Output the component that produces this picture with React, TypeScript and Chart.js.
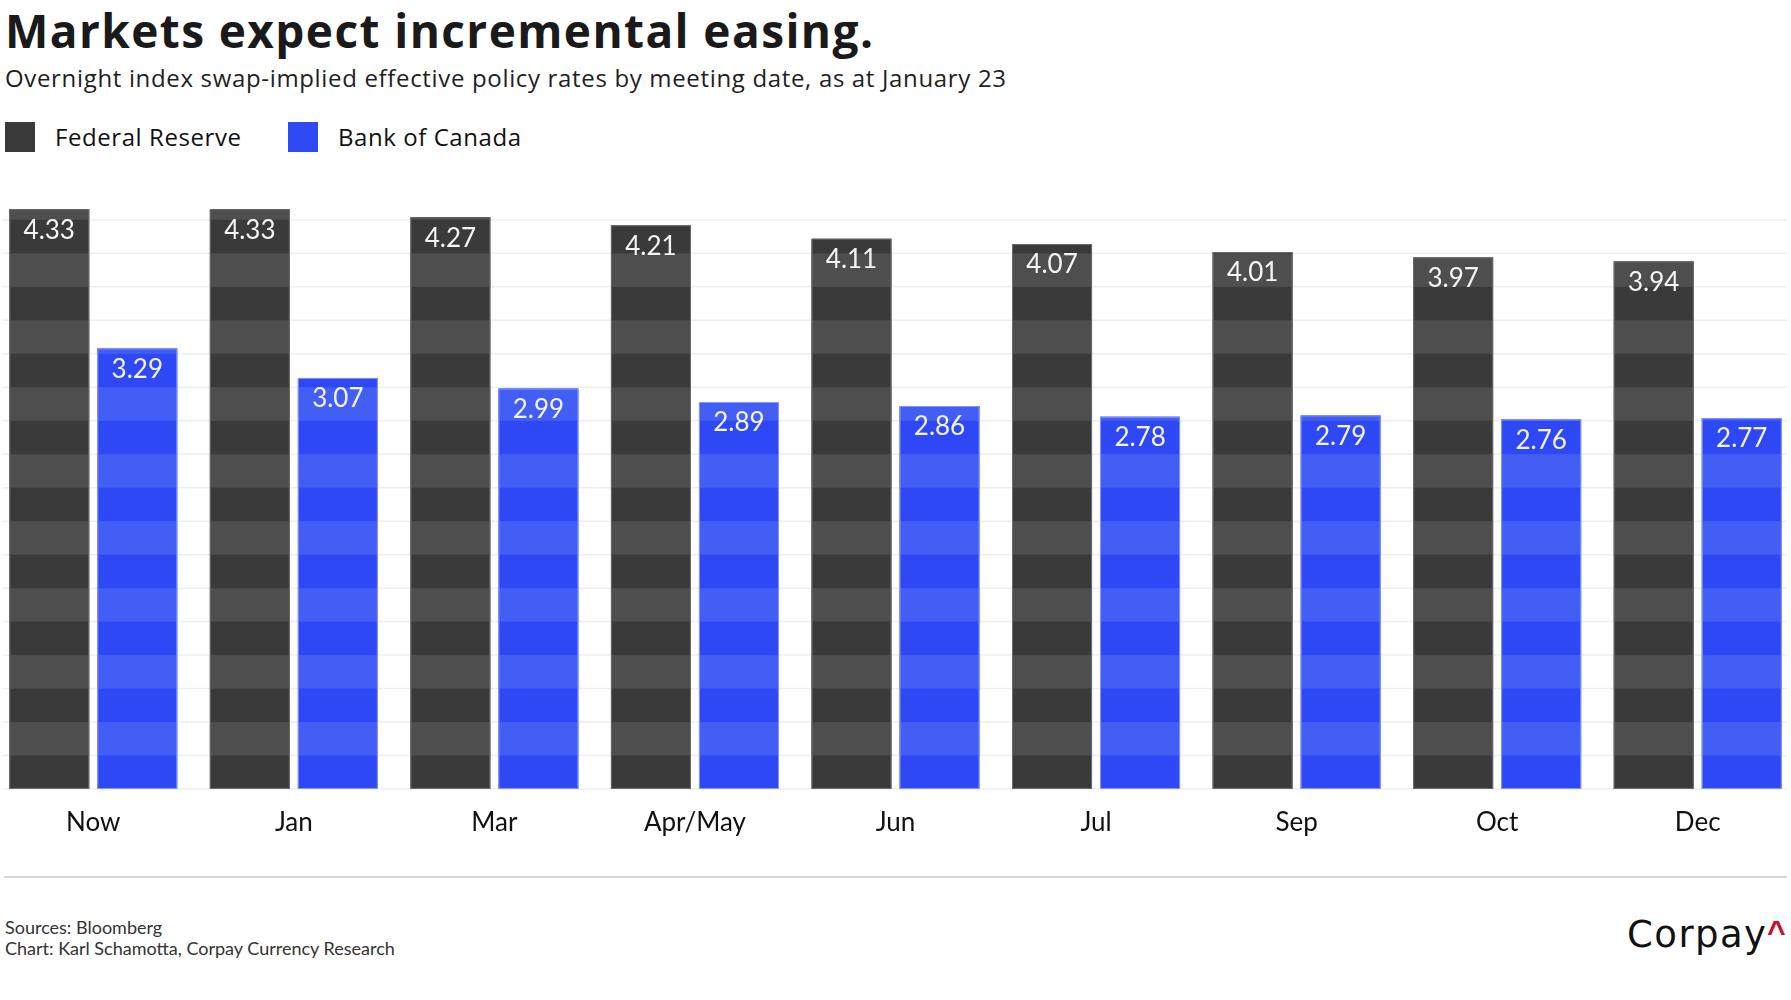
import React, { useEffect, useRef } from 'react';
import { Chart, registerables } from 'chart.js';

Chart.register(...registerables);

const categories = ['Now', 'Jan', 'Mar', 'Apr/May', 'Jun', 'Jul', 'Sep', 'Oct', 'Dec'];
const fedValues = [4.33, 4.33, 4.27, 4.21, 4.11, 4.07, 4.01, 3.97, 3.94];
const bocValues = [3.29, 3.07, 2.99, 2.89, 2.86, 2.78, 2.79, 2.76, 2.77];
const seriesNames = ['Federal Reserve', 'Bank of Canada'];
const baseColors = ['#3a3a3a', '#2d48f4'];
const stripeColors = ['#4e4e4e', '#435ef5'];
const edgeColors = ['#6c6c6c', '#8497f8'];
const legendColors = ['#3a3a3a', '#2f49f5'];
const yMin = 0;
const yMax = 4.4;
const bandStep = 0.25;

const TITLE = 'Markets expect incremental easing.';
const SUB_A = 'Overnight index swap-implied effective policy rates by meeting date,';
const SUB_B = ' as at January 23';
const SOURCE = 'Sources: Bloomberg';
const CREDIT = 'Chart: Karl Schamotta, Corpay Currency Research';

const FONT = 'Lato, "Noto Sans", "DejaVu Sans", sans-serif';
const OS = '"Open Sans", "Noto Sans", sans-serif';
const LOGO = '"DejaVu Sans", "Liberation Sans", sans-serif';

let mctx: CanvasRenderingContext2D | null = null;
function spacing(parts: [string, string][], target: number) {
  if (typeof document === 'undefined') return 0;
  if (!mctx) mctx = document.createElement('canvas').getContext('2d');
  if (!mctx) return 0;
  let w = 0;
  let n = 0;
  for (const [t, f] of parts) {
    mctx.font = f;
    w += mctx.measureText(t).width;
    n += t.length;
  }
  return (target - w) / Math.max(1, n - 1);
}

const stripePlugin = {
  id: 'stripedBars',
  beforeDatasetsDraw(chart: any) {
    const ctx = chart.ctx;
    const ys = chart.scales.y;
    ctx.save();
    ctx.strokeStyle = '#efefef';
    ctx.lineWidth = 1.5;
    for (let k = 0; k * bandStep <= yMax + 1e-9; k++) {
      const py = ys.getPixelForValue(k * bandStep);
      ctx.beginPath();
      ctx.moveTo(10, py);
      ctx.lineTo(1794, py);
      ctx.stroke();
    }
    ctx.restore();
  },
  afterDatasetsDraw(chart: any) {
    const ctx = chart.ctx;
    const ys = chart.scales.y;
    chart.data.datasets.forEach((ds: any, di: number) => {
      const meta = chart.getDatasetMeta(di);
      meta.data.forEach((el: any, i: number) => {
        const p = el.getProps(['x', 'y', 'base', 'width'], true);
        const left = p.x - p.width / 2;
        const top = p.y;
        const h = p.base - p.y;
        ctx.save();
        ctx.beginPath();
        ctx.rect(left, top, p.width, h);
        ctx.clip();
        ctx.fillStyle = stripeColors[di];
        for (let k = 0; k * bandStep < yMax; k++) {
          if (k % 2 === 1) {
            const y0 = ys.getPixelForValue(k * bandStep);
            const y1 = ys.getPixelForValue((k + 1) * bandStep);
            ctx.fillRect(left, y1, p.width, y0 - y1);
          }
        }
        ctx.restore();
        ctx.save();
        ctx.strokeStyle = edgeColors[di];
        ctx.lineWidth = 1;
        ctx.strokeRect(left + 0.5, top + 0.5, p.width - 1, h - 1);
        ctx.restore();
        ctx.save();
        ctx.fillStyle = '#f4f4f4';
        ctx.font = `400 26px ${FONT}`;
        ctx.textAlign = 'center';
        ctx.textBaseline = 'middle';
        ctx.fillText(Number(ds.data[i]).toFixed(2), p.x, top + 21);
        ctx.restore();
      });
    });
  },
};

export default function App() {
  const ref = useRef<HTMLCanvasElement | null>(null);

  useEffect(() => {
    if (!ref.current) return;
    const chart = new Chart(ref.current, {
      type: 'bar',
      data: {
        labels: categories,
        datasets: [
          { label: seriesNames[0], data: fedValues, backgroundColor: baseColors[0], borderWidth: 0 },
          { label: seriesNames[1], data: bocValues, backgroundColor: baseColors[1], borderWidth: 0 },
        ],
      },
      options: {
        responsive: false,
        animation: false,
        devicePixelRatio: 1,
        layout: { padding: { top: 39.8, bottom: 3.8, left: 0, right: 0 } },
        datasets: { bar: { categoryPercentage: 0.8778, barPercentage: 0.909 } },
        plugins: { legend: { display: false }, tooltip: { enabled: false }, title: { display: false } },
        scales: {
          x: {
            grid: { display: false, drawTicks: false },
            border: { display: false },
            ticks: {
              color: '#111111',
              padding: 18,
              font: { family: FONT, size: 26, lineHeight: 1.2 },
            },
          },
          y: {
            display: false,
            min: yMin,
            max: yMax,
            ticks: { stepSize: bandStep },
          },
        },
      },
      plugins: [stripePlugin],
    });
    return () => chart.destroy();
  }, []);

  const abs = (o: any) => ({ position: 'absolute' as const, whiteSpace: 'nowrap' as const, ...o });

  const titleLS = spacing([[TITLE, `700 46px ${OS}`]], 868);
  const subLS = spacing([[SUB_A, `500 24px ${OS}`], [SUB_B, `400 24px ${OS}`]], 1001);
  const leg1LS = spacing([[seriesNames[0], `400 24px ${OS}`]], 186);
  const leg2LS = spacing([[seriesNames[1], `400 24px ${OS}`]], 183);
  const logoLS = spacing([['Corpay', `400 37px ${LOGO}`]], 139);

  return (
    <div style={{ position: 'absolute', left: 0, top: 0, width: 1791, height: 1000, overflow: 'hidden', background: '#ffffff' }}>
      <div style={abs({ left: 5, top: 6.5, fontFamily: OS, fontSize: 46, lineHeight: '1', fontWeight: 700, color: '#1a1a1a', letterSpacing: titleLS })}>
        {TITLE}
      </div>
      <div style={abs({ left: 5, top: 66, fontFamily: OS, fontSize: 24, lineHeight: '1', color: '#1f1f1f', letterSpacing: subLS })}>
        <span style={{ fontWeight: 500 }}>{SUB_A}</span>
        <span style={{ fontWeight: 400 }}>{SUB_B}</span>
      </div>
      <div style={abs({ left: 5, top: 122, width: 30, height: 30, background: legendColors[0] })} />
      <div style={abs({ left: 55, top: 124.7, fontFamily: OS, fontSize: 24, lineHeight: '1', color: '#111', letterSpacing: leg1LS })}>{seriesNames[0]}</div>
      <div style={abs({ left: 288, top: 122, width: 30, height: 30, background: legendColors[1] })} />
      <div style={abs({ left: 338, top: 124.7, fontFamily: OS, fontSize: 24, lineHeight: '1', color: '#111', letterSpacing: leg2LS })}>{seriesNames[1]}</div>
      <canvas ref={ref} width={1805} height={700} style={abs({ left: -7, top: 160, width: 1805, height: 700 })} />
      <div style={abs({ left: 4, top: 876, width: 1783, height: 2, background: '#d6d6d6' })} />
      <div style={abs({ left: 5, top: 918, fontFamily: FONT, fontSize: 18, lineHeight: '1', color: '#333' })}>{SOURCE}</div>
      <div style={abs({ left: 5, top: 939, fontFamily: FONT, fontSize: 18, lineHeight: '1', color: '#333' })}>{CREDIT}</div>
      <div style={abs({ left: 1627, top: 915.7, fontFamily: LOGO, fontSize: 37, lineHeight: '1', color: '#111', letterSpacing: logoLS })}>
        Corpay
      </div>
      <div style={abs({ left: 1767, top: 916, fontFamily: '"Liberation Sans", Arial, sans-serif', fontSize: 32, lineHeight: '1', fontWeight: 700, color: '#c8102e' })}>
        ^
      </div>
    </div>
  );
}
